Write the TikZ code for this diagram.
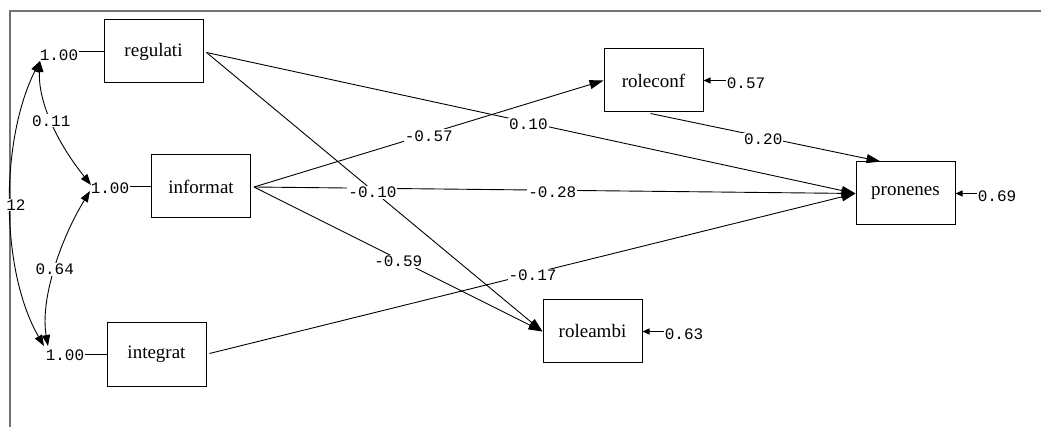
\documentclass[tikz,border=0pt]{standalone}
\usepackage{fontspec}
\setmainfont{Liberation Serif}
\setmonofont{Liberation Mono}
\usetikzlibrary{arrows.meta,calc}
\begin{document}
\begin{tikzpicture}[x=1pt,y=-1pt,
  var/.style={draw, line width=1pt, minimum width=99pt, minimum height=63pt, inner sep=0pt, font=\fontsize{19}{21}\selectfont},
  num/.style={font=\ttfamily\fontsize{16}{18}\selectfont, inner sep=1pt},
  lab/.style={num, fill=white},
  conn/.style={line width=0.9pt, -{Triangle[length=14pt,width=9pt]}},
  cov/.style={line width=0.9pt, {Triangle[length=11pt,width=8pt]}-{Triangle[length=11pt,width=8pt]}},
  err/.style={line width=1.2pt, -{Triangle[length=7pt,width=6pt]}},
  plain/.style={line width=1.1pt}
]
\useasboundingbox (0,0) rectangle (1041,427);
\draw[gray!90!black, line width=2pt] (10,427) -- (10,11.5) -- (1041,11.5);

% observed variables
\node[var] (reg) at (153.5,51.5) {regulati};
\node[var] (inf) at (201,186.5) {informat};
\node[var] (int) at (156.5,354.5) {integrat};
\node[var] (rc)  at (653.5,80.5) {roleconf};
\node[var] (pro) at (905.5,193.5) {pronenes};
\node[var] (ra)  at (592.5,331.5) {roleambi};

% variances of exogenous variables
\node[num] (vreg) at (59,55) {1.00};
\node[num] (vinf) at (110,188) {1.00};
\node[num] (vint) at (65,355) {1.00};
\draw[plain] (vreg.east |- reg.west) -- (reg.west);
\draw[plain] (vinf.east |- inf.west) -- (inf.west);
\draw[plain] (vint.east |- int.west) -- (int.west);

% covariance end points
\coordinate (creg) at (40,61);
\coordinate (cinfa) at (91,185);
\coordinate (cinfb) at (90,191);
\coordinate (cinta) at (48,346);
\coordinate (cintb) at (44,346);

\draw[cov] (creg) .. controls (38,100) and (55,140) .. (cinfa) coordinate[pos=0.5] (l011);
\draw[cov] (cinfb) .. controls (60,240) and (40,300) .. (cinta) coordinate[pos=0.5] (l064);
\draw[cov] (creg) .. controls (0,140) and (0,270) .. (cintb);

% error terms
\node[num] (erc) at (746,83) {0.57};
\node[num] (epro) at (997,196) {0.69};
\node[num] (era) at (684,334) {0.63};
\draw[err] (erc.west |- rc.east) -- (rc.east);
\draw[err] (epro.west |- pro.east) -- (pro.east);
\draw[err] (era.west |- ra.east) -- (ra.east);

% paths
\coordinate (regout) at ($(reg.east)+(3,1)$);
\coordinate (infout) at ($(inf.east)+(3,0.5)$);
\coordinate (intout) at ($(int.east)+(3,-1)$);
\draw[conn] (regout) -- (pro.west) coordinate[pos=0.496] (p1);
\draw[conn] (regout) -- (ra.west) coordinate[pos=0.494] (p2);
\draw[conn] (infout) -- (rc.west) coordinate[pos=0.5] (p3);
\draw[conn] (infout) -- (pro.west) coordinate[pos=0.496] (p4);
\draw[conn] (infout) -- (ra.west) coordinate[pos=0.5] (p5);
\draw[conn] (intout) -- (pro.west) coordinate[pos=0.5] (p6);
\draw[conn] ($(rc.south)+(-3,1)$) -- ($(pro.north west)!0.25!(pro.north east)$) coordinate[pos=0.49] (p7);

% labels on top of all lines
\node[lab] at (l011) {0.11};
\node[lab] at (l064) {0.64};
\node[lab] at (16,205) {12};
\node[lab] at ($(p1)+(0,2)$) {0.10};
\node[lab] at ($(p2)+(0,2)$) {-0.10};
\node[lab] at ($(p3)+(0,2)$) {-0.57};
\node[lab] at ($(p4)+(0,2)$) {-0.28};
\node[lab] at ($(p5)+(0,2)$) {-0.59};
\node[lab] at ($(p6)+(0,2)$) {-0.17};
\node[lab] at ($(p7)+(0,2)$) {0.20};
\end{tikzpicture}
\end{document}
